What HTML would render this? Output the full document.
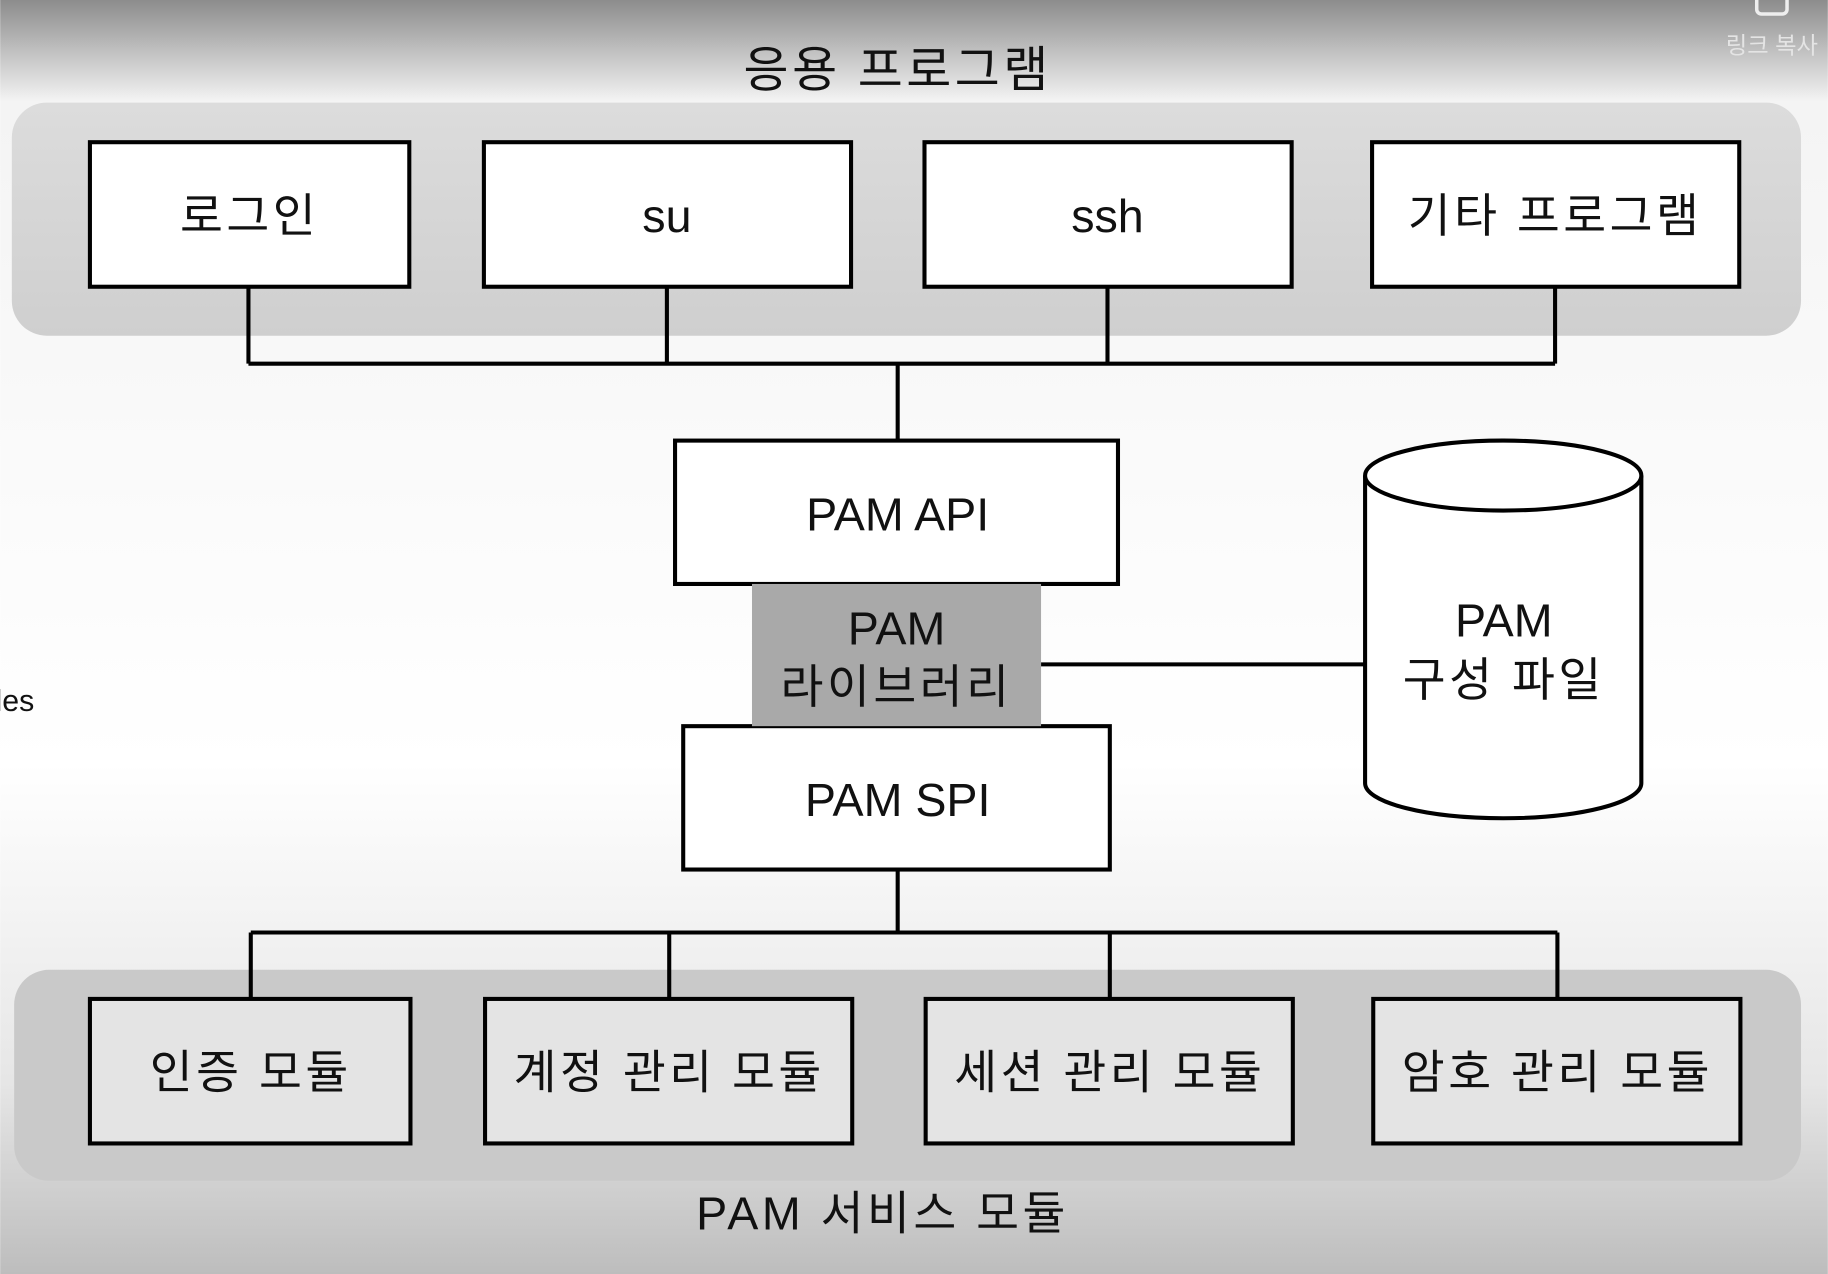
<!DOCTYPE html>
<html><head><meta charset="utf-8"><style>
html,body{margin:0;padding:0;width:1828px;height:1274px;overflow:hidden;background:#fff}
svg{display:block}
text{font-family:"Liberation Sans","Noto Sans CJK KR",sans-serif;fill:#111}
.k{letter-spacing:3px}
</style></head><body>
<svg width="1828" height="1274" viewBox="0 0 1568 1093" xmlns="http://www.w3.org/2000/svg">
<defs>
<linearGradient id="bg" x1="0" y1="0" x2="0" y2="1">
<stop offset="0" stop-color="#8c8c8c"/>
<stop offset="0.08" stop-color="#f4f4f4"/>
<stop offset="0.6" stop-color="#ffffff"/>
<stop offset="0.85" stop-color="#e6e6e6"/>
<stop offset="1" stop-color="#bdbdbd"/>
</linearGradient>
<linearGradient id="band" x1="0" y1="0" x2="0" y2="1">
<stop offset="0" stop-color="#dcdcdc"/>
<stop offset="1" stop-color="#cfcfcf"/>
</linearGradient>
</defs>
<rect width="1568" height="1093" fill="url(#bg)"/>
<text x="1520" y="46" font-size="20" text-anchor="middle" style="fill:#e4e4e4">링크 복사</text>
<rect x="1507" y="-8" width="26" height="20" rx="4" fill="none" stroke="#eee" stroke-width="3"/>
<text class="k" x="770" y="74" font-size="42" text-anchor="middle">응용 프로그램</text>
<rect x="10" y="88" width="1535" height="200" rx="30" fill="url(#band)"/>
<rect x="12" y="832" width="1533" height="181" rx="30" fill="#c9c9c9"/>
<g fill="none" stroke="#000" stroke-width="3.5">
<path d="M213 246V312M572 246V312M950 246V312M1334 246V312M213 312H1334M770 312V378"/>
<path d="M770 746V800M215 800H1336M215 800V857M574 800V857M952 800V857M1336 800V857"/>
<path d="M893 570H1171"/>
</g>
<g stroke="#000" stroke-width="3.5" fill="#fff">
<rect x="77" y="122" width="274" height="124"/>
<rect x="415" y="122" width="315" height="124"/>
<rect x="793" y="122" width="315" height="124"/>
<rect x="1177" y="122" width="315" height="124"/>
<rect x="579" y="378" width="380" height="123"/>
<rect x="586" y="623" width="366" height="123"/>
</g>
<rect x="645" y="501" width="248" height="122" fill="#a9a9a9"/>
<g stroke="#000" stroke-width="3.5" fill="#e4e4e4">
<rect x="77" y="857" width="275" height="124"/>
<rect x="416" y="857" width="315" height="124"/>
<rect x="794" y="857" width="315" height="124"/>
<rect x="1178" y="857" width="315" height="124"/>
</g>
<g stroke="#000" stroke-width="3.5" fill="#fff">
<path d="M1171 408V672A118.5 30 0 0 0 1408 672V408"/>
<ellipse cx="1289.5" cy="408" rx="118.5" ry="30"/>
</g>
<g font-size="40" text-anchor="middle">
<text class="k" x="214" y="199">로그인</text>
<text x="572" y="199">su</text>
<text x="950" y="199">ssh</text>
<text class="k" x="1334" y="199">기타 프로그램</text>
<text x="770" y="455">PAM API</text>
<text x="769" y="553">PAM</text>
<text class="k" x="769" y="603">라이브러리</text>
<text x="770" y="700">PAM SPI</text>
<text x="1290" y="546">PAM</text>
<text class="k" x="1290" y="597">구성 파일</text>
<text class="k" x="215" y="934">인증 모듈</text>
<text class="k" x="574" y="934">계정 관리 모듈</text>
<text class="k" x="952" y="934">세션 관리 모듈</text>
<text class="k" x="1336" y="934">암호 관리 모듈</text>
<text class="k" x="757" y="1055">PAM 서비스 모듈</text>
</g>
<text x="-4" y="610" font-size="26">les</text>
</svg>
</body></html>
